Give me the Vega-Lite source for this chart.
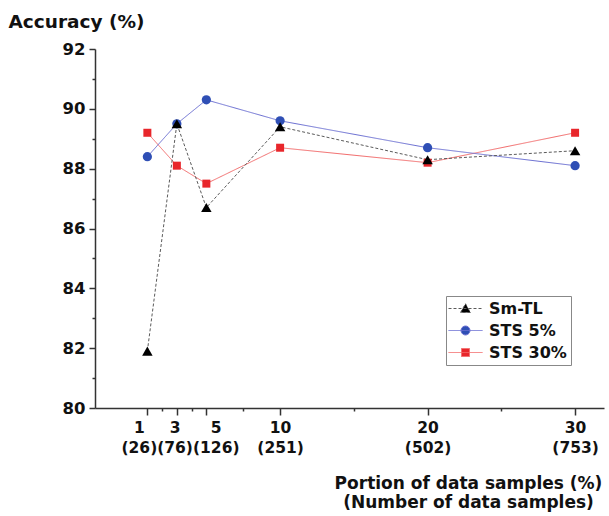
{
  "$schema": "https://vega.github.io/schema/vega-lite/v6.json",
  "width": 509,
  "height": 359,
  "autosize": {"type": "none"},
  "padding": {"left": 95, "top": 49, "right": 5, "bottom": 108},
  "background": "white",
  "config": {
    "view": {"stroke": null},
    "font": "DejaVu Sans",
    "axis": {"grid": false, "domainColor": "#333", "tickColor": "#333", "domainWidth": 1.5, "tickWidth": 1.5, "labelFont": "DejaVu Sans", "labelFontWeight": "bold", "labelColor": "#111", "titleFont": "DejaVu Sans", "titleFontWeight": "bold", "titleColor": "#111"}
  },
  "data": {"values": [
    {"series": "STS 30%", "x": 1, "acc": 89.2},
    {"series": "STS 30%", "x": 3, "acc": 88.1},
    {"series": "STS 30%", "x": 5, "acc": 87.5},
    {"series": "STS 30%", "x": 10, "acc": 88.7},
    {"series": "STS 30%", "x": 20, "acc": 88.2},
    {"series": "STS 30%", "x": 30, "acc": 89.2},
    {"series": "STS 5%", "x": 1, "acc": 88.4},
    {"series": "STS 5%", "x": 3, "acc": 89.5},
    {"series": "STS 5%", "x": 5, "acc": 90.3},
    {"series": "STS 5%", "x": 10, "acc": 89.6},
    {"series": "STS 5%", "x": 20, "acc": 88.7},
    {"series": "STS 5%", "x": 30, "acc": 88.1},
    {"series": "Sm-TL", "x": 1, "acc": 81.9},
    {"series": "Sm-TL", "x": 3, "acc": 89.5},
    {"series": "Sm-TL", "x": 5, "acc": 86.7},
    {"series": "Sm-TL", "x": 10, "acc": 89.4},
    {"series": "Sm-TL", "x": 20, "acc": 88.3},
    {"series": "Sm-TL", "x": 30, "acc": 88.6}
  ]},
  "encoding": {
    "x": {
      "field": "x", "type": "quantitative",
      "scale": {"domain": [-2.55, 31.96], "nice": false, "zero": false},
      "axis": {
        "values": [1, 2, 3, 4, 5, 7.5, 10, 15, 20, 25, 30],
        "labelExpr": "datum.value == 1 ? ['1','(26)'] : datum.value == 3 ? ['3','(76)'] : datum.value == 5 ? ['5','(126)'] : datum.value == 10 ? ['10','(251)'] : datum.value == 20 ? ['20','(502)'] : datum.value == 30 ? ['30','(753)'] : ''",
        "labelFontSize": 15.5,
        "labelLineHeight": 20,
        "labelOverlap": false,
        "labelFlush": false,
        "labelBaseline": "top",
        "tickSize": {"condition": {"test": "indexof([1,3,5,10,20,30], datum.value) < 0", "value": 3}, "value": 7},
        "labelOffset": {"condition": [
          {"test": "datum.value == 1", "value": -8.5},
          {"test": "datum.value == 3", "value": -2.3},
          {"test": "datum.value == 5", "value": 9.4}
        ], "value": 0},
        "labelPadding": 5,
        "title": ["Portion of data samples (%)", "(Number of data samples)"],
        "titleFontSize": 17,
        "titleLineHeight": 19,
        "titleAlign": "center",
        "titleAnchor": null,
        "titleBaseline": "alphabetic",
        "titleX": 373,
        "titleY": 80
      }
    },
    "y": {
      "field": "acc", "type": "quantitative",
      "scale": {"domain": [80, 92], "nice": false, "zero": false},
      "axis": {
        "values": [80, 81, 82, 83, 84, 85, 86, 87, 88, 89, 90, 91, 92],
        "labelExpr": "datum.value % 2 === 0 ? datum.label : ''",
        "labelFontSize": 16.5,
        "tickSize": {"condition": {"test": "datum.value % 2 !== 0", "value": 3}, "value": 6},
        "labelPadding": 4,
        "title": "Accuracy (%)",
        "titleFontSize": 18.5,
        "titleAngle": 0,
        "titleAlign": "left",
        "titleBaseline": "alphabetic",
        "titleAnchor": null,
        "titleX": -87,
        "titleY": -22
      }
    }
  },
  "layer": [
    {
      "mark": {"type": "line", "strokeWidth": 1},
      "encoding": {
        "color": {
          "field": "series", "type": "nominal",
          "scale": {"domain": ["Sm-TL", "STS 5%", "STS 30%"], "range": ["#5a5a5a", "#6b6fd2", "#f26b6b"]},
          "legend": {
            "title": null,
            "orient": "none",
            "legendX": 351,
            "legendY": 247,
            "padding": 4,
            "strokeColor": "#888",
            "fillColor": "white",
            "symbolSize": 256,
            "symbolStrokeWidth": 1,
            "symbolOffset": 7,
            "rowPadding": 5,
            "labelOffset": 15,
            "labelFont": "DejaVu Sans",
            "labelFontWeight": "bold",
            "labelFontSize": 16,
            "labelColor": "#111",
            "encode": {
              "symbols": {"update": {
                "shape": {"signal": "datum.value === 'Sm-TL' ? 'M-2.125,0L2.125,0M0,-0.6L0.62,0.5L-0.62,0.5Z' : datum.value === 'STS 5%' ? 'M-2.125,0L2.125,0M0.56,0A0.56,0.56,0,1,1,-0.56,0A0.56,0.56,0,1,1,0.56,0Z' : 'M-2.125,0L2.125,0M-0.5,-0.5L0.5,-0.5L0.5,0.5L-0.5,0.5Z'"},
                "fill": {"signal": "datum.value === 'Sm-TL' ? '#000000' : datum.value === 'STS 5%' ? '#2f4fb5' : '#e8262b'"},
                "stroke": {"signal": "datum.value === 'Sm-TL' ? '#5a5a5a' : datum.value === 'STS 5%' ? '#6b6fd2' : '#f26b6b'"},
                "strokeDash": {"signal": "datum.value === 'Sm-TL' ? [3,2] : [1,0]"},
                "size": {"value": 256},
                "strokeWidth": {"value": 1},
                "opacity": {"value": 1}
              }}
            }
          }
        },
        "strokeDash": {"condition": {"test": "datum.series === 'Sm-TL'", "value": [3, 2]}, "value": [1, 0]}
      }
    },
    {
      "mark": {"type": "point", "filled": true, "opacity": 1},
      "encoding": {
        "shape": {"condition": [
          {"test": "datum.series === 'Sm-TL'", "value": "triangle-up"},
          {"test": "datum.series === 'STS 5%'", "value": "circle"}
        ], "value": "square"},
        "fill": {"condition": [
          {"test": "datum.series === 'Sm-TL'", "value": "#000000"},
          {"test": "datum.series === 'STS 5%'", "value": "#2f4fb5"}
        ], "value": "#e8262b"},
        "size": {"condition": [
          {"test": "datum.series === 'Sm-TL'", "value": 110},
          {"test": "datum.series === 'STS 5%'", "value": 85}
        ], "value": 64}
      }
    }
  ]
}
